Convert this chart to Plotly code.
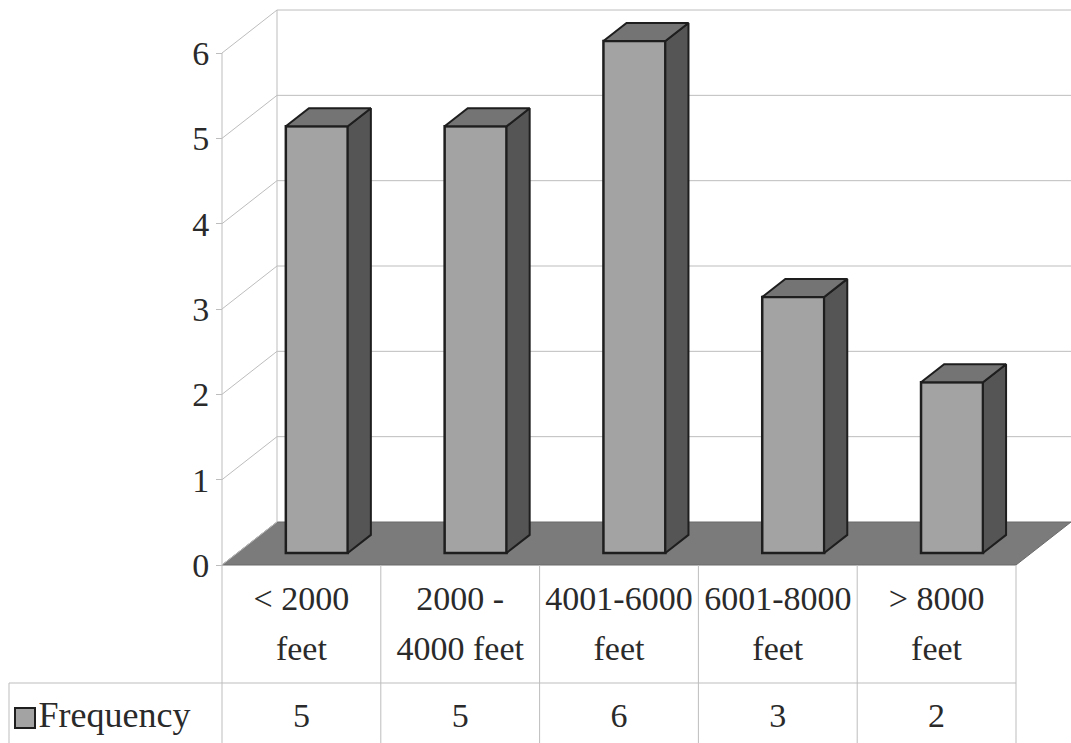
import plotly.graph_objects as go

# ---- data ----
categories = ["< 2000\nfeet", "2000 -\n4000 feet", "4001-6000\nfeet", "6001-8000\nfeet", "> 8000\nfeet"]
frequency = [5, 5, 6, 3, 2]
series_name = "Frequency"
y_ticks = [0, 1, 2, 3, 4, 5, 6]

# ---- geometry (oblique 3-D projection in data units) ----
W, H = 1071, 743
PX_X = 158.8          # pixels per category
PX_Y = 85.33          # pixels per value unit
X0_PX, Y0_PX = 301.4, 565.0   # pixel of (category 0, value 0) on the front plane
DX = 55 / PX_X        # full depth shift in x (category units)
DY = 43 / PX_Y        # full depth shift in y (value units)
D0, D1 = 0.28, 0.70   # bar depth span
HW = 0.195            # bar half width
n = len(categories)
XL, XR = -0.5, n - 0.5

def px2x(p):
    return (p - X0_PX) / PX_X

def py2y(p):
    return (Y0_PX - p) / PX_Y

FONT = "Liberation Serif"
TXT = "#2a2a2a"
GRID = "#bdbdbd"
fig = go.Figure()
shapes = []

# floor
shapes.append(dict(type="path", layer="below",
                   path=f"M {XL},0 L {XR},0 L {XR+DX},{DY} L {XL+DX},{DY} Z",
                   fillcolor="#7b7b7b", line=dict(color="#6a6a6a", width=1)))
# back wall gridlines and left wall lines
for v in y_ticks:
    if v > 0:
        shapes.append(dict(type="line", layer="below", x0=XL+DX, y0=v+DY, x1=XR+DX+0.2, y1=v+DY,
                           line=dict(color=GRID, width=1)))
    shapes.append(dict(type="line", layer="below", x0=XL, y0=v, x1=XL+DX, y1=v+DY,
                       line=dict(color=GRID, width=1)))
shapes.append(dict(type="line", layer="below", x0=XL+DX, y0=DY, x1=XL+DX, y1=max(y_ticks)+DY,
                   line=dict(color=GRID, width=1)))
shapes.append(dict(type="line", layer="below", x0=XL, y0=0, x1=XL, y1=max(y_ticks),
                   line=dict(color=GRID, width=1)))

# data table grid
ybot = py2y(W)  # well below the visible area
row_line = py2y(683)
leg_left = px2x(9)
for k in range(n + 1):
    shapes.append(dict(type="line", x0=XL+k, y0=0, x1=XL+k, y1=ybot, line=dict(color=GRID, width=1)))
shapes.append(dict(type="line", x0=leg_left, y0=row_line, x1=XR, y1=row_line, line=dict(color=GRID, width=1)))
shapes.append(dict(type="line", x0=leg_left, y0=row_line, x1=leg_left, y1=ybot, line=dict(color=GRID, width=1)))

# front faces of bars
xs = [i + D0 * DX for i in range(n)]
fig.add_trace(go.Bar(x=xs, y=frequency, base=[D0 * DY] * n, width=2 * HW,
                     marker=dict(color="#a3a3a3", line=dict(color="#1e1e1e", width=2.5)),
                     hoverinfo="skip", showlegend=False))

# side and top faces
dd = D1 - D0
for xc, v in zip(xs, frequency):
    xr = xc + HW
    xl = xc - HW
    fig.add_trace(go.Scatter(
        x=[xr, xr + dd*DX, xr + dd*DX, xr, xr],
        y=[D0*DY, D1*DY, v + D1*DY, v + D0*DY, D0*DY],
        fill="toself", fillcolor="#555555", mode="lines",
        line=dict(color="#1e1e1e", width=2), hoverinfo="skip", showlegend=False))
    fig.add_trace(go.Scatter(
        x=[xl, xr, xr + dd*DX, xl + dd*DX, xl],
        y=[v + D0*DY, v + D0*DY, v + D1*DY, v + D1*DY, v + D0*DY],
        fill="toself", fillcolor="#747474", mode="lines",
        line=dict(color="#1e1e1e", width=2), hoverinfo="skip", showlegend=False))

# category labels (two lines)
def esc(s):
    return s.replace("<", "&lt;").replace(">", "&gt;")

line1 = [esc(c.split("\n")[0]) for c in categories]
line2 = [esc(c.split("\n")[1]) for c in categories]
fig.add_trace(go.Scatter(x=list(range(n)), y=[py2y(601)] * n, text=line1, mode="text",
                         textfont=dict(family=FONT, size=34, color=TXT), hoverinfo="skip", showlegend=False))
fig.add_trace(go.Scatter(x=list(range(n)), y=[py2y(651)] * n, text=line2, mode="text",
                         textfont=dict(family=FONT, size=34, color=TXT), hoverinfo="skip", showlegend=False))
# value row
fig.add_trace(go.Scatter(x=list(range(n)), y=[py2y(718)] * n, text=[str(v) for v in frequency], mode="text",
                         textfont=dict(family=FONT, size=34, color=TXT), hoverinfo="skip", showlegend=False))
# legend key + series name
fig.add_trace(go.Scatter(x=[px2x(25)], y=[py2y(718)], mode="markers+text", text=[series_name],
                         textposition="middle right",
                         marker=dict(symbol="square", size=20, color="#a3a3a3", line=dict(color="#1e1e1e", width=2)),
                         textfont=dict(family=FONT, size=36, color=TXT), hoverinfo="skip", showlegend=False))

fig.update_layout(
    width=W, height=H, margin=dict(l=0, r=0, t=0, b=0),
    plot_bgcolor="white", paper_bgcolor="white",
    shapes=shapes, showlegend=False,
    xaxis=dict(range=[px2x(0), px2x(W)], showgrid=False, zeroline=False, showticklabels=False,
               ticks="", showline=False, fixedrange=True),
    yaxis=dict(range=[py2y(H), py2y(0)], anchor="free", position=222 / W,
               tickvals=y_ticks, ticktext=[str(t) for t in y_ticks],
               ticks="outside", ticklen=6, tickcolor=GRID,
               tickfont=dict(family=FONT, size=34, color=TXT),
               showgrid=False, zeroline=False, showline=False, fixedrange=True),
)
fig.write_html("out.html", config={"displayModeBar": False},
               post_script="document.body.style.margin='0';")
